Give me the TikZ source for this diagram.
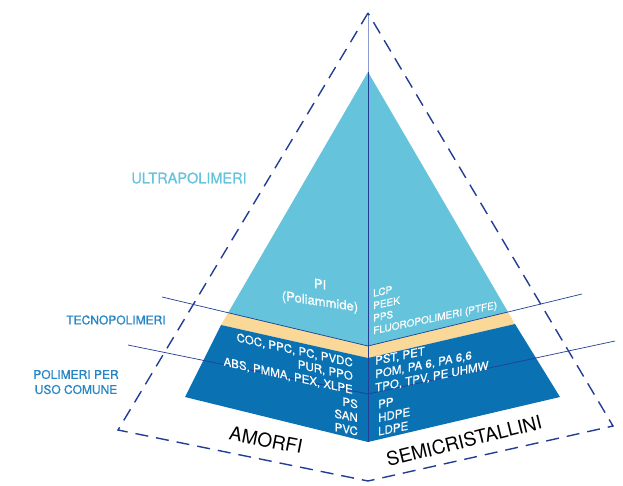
\documentclass[tikz,border=0pt]{standalone}
\usepackage{fontspec}
\setmainfont{TeX Gyre Heros}
\newfontfamily\labelfont[FakeBold=0.8]{TeX Gyre Heros}
\newfontfamily\facefont[FakeBold=0.4]{TeX Gyre Heros}
\usetikzlibrary{positioning}
\definecolor{ultrablue}{HTML}{65C3DB}
\definecolor{tecnoyellow}{HTML}{F9D898}
\definecolor{comuneblue}{HTML}{0A72B3}
\definecolor{linenavy}{HTML}{213E94}
\definecolor{labelblue}{HTML}{2585C5}
\definecolor{apexline}{HTML}{8E9CD0}

\begin{document}
\begin{tikzpicture}[x=1pt, y=-1pt, font=\small]
        \tikzstyle{outline} = [draw=linenavy, line width=1.4pt, dash pattern=on 13pt off 8pt, line join=miter]
        \tikzstyle{divider} = [draw=linenavy, line width=0.7pt]
        \tikzstyle{face} = [text=white, inner sep=0pt, font=\facefont\fontsize{11.5}{13.5}\selectfont]
        \tikzstyle{side} = [inner sep=0pt, text=labelblue, align=center, font=\labelfont\fontsize{12}{15}\selectfont]
        \tikzstyle{base} = [inner sep=0pt, text=black, font=\fontsize{19}{19}\selectfont]
        \useasboundingbox (0,0) rectangle (623,486);
        % outer frame
        \coordinate (top) at (368,13);
        \coordinate (left) at (118,430);
        \coordinate (bottom) at (368,481);
        \coordinate (right) at (613,426);
        % pyramid
        \coordinate (peak) at (368,72);
        \coordinate (ultraL) at (228,313);
        \coordinate (ultraM) at (368,346);
        \coordinate (ultraR) at (508,312);
        \coordinate (tecnoL) at (221,325);
        \coordinate (tecnoM) at (368,358);
        \coordinate (tecnoR) at (515,324);
        \coordinate (baseL) at (185,397);
        \coordinate (baseM) at (368,442);
        \coordinate (baseR) at (560,397);
        \fill[tecnoyellow] (ultraL) -- (ultraM) -- (ultraR) -- (tecnoR) -- (tecnoM) -- (tecnoL) -- cycle;
        \fill[ultrablue] (peak) -- (ultraR) -- (ultraM) -- (ultraL) -- cycle;
        \fill[comuneblue] (tecnoL) -- (tecnoM) -- (tecnoR) -- (baseR) -- (baseM) -- (baseL) -- cycle;
        % dividing lines
        \coordinate (tecnoA) at (162,297);
        \coordinate (tecnoB) at (582,294);
        \coordinate (comuneA) at (128,345);
        \coordinate (comuneM) at (368,394);
        \coordinate (comuneB) at (615,341);
        \draw[divider] (tecnoA) -- (ultraM) -- (tecnoB);
        \draw[divider] (comuneA) -- (comuneM) -- (comuneB);
        \draw[apexline, line width=0.9pt] (top) -- (peak);
        \draw[divider] (peak) -- (baseM);
        \draw[outline] (top) -- (left) -- (bottom) -- (right) -- cycle;
        % texts on the faces
        \node[face, align=center, yslant=-0.15, font=\facefont\fontsize{13}{17}\selectfont] (pi) at (320,294) {PI\\(Poliammide)};
        \node[face, align=left, anchor=west, yslant=0.21, font=\facefont\fontsize{10}{12.5}\selectfont] (lcp) at (373,313) {LCP\\PEEK\\PPS\\FLUOROPOLIMERI (PTFE)};
        \node[face, align=right, anchor=east, yslant=-0.22] (coc) at (353,377) {COC, PPC, PC, PVDC\\PUR, PPO\\ABS, PMMA, PEX, XLPE};
        \node[face, align=left, anchor=west, yslant=0.2] (pst) at (375,375) {PST, PET\\POM, PA 6, PA 6,6\\TPO, TPV, PE UHMW};
        \node[face, align=right, anchor=east, yslant=-0.2] (ps) at (358,418) {PS\\SAN\\PVC};
        \node[face, align=left, anchor=west, yslant=0.2] (pp) at (378,418) {PP\\HDPE\\LDPE};
        % labels
        \node[side, text=ultrablue, font=\labelfont\fontsize{14.5}{15}\selectfont] (ultra) at (189,178) {ULTRAPOLIMERI};
        \node[side] (tecno) at (116,320) {TECNOPOLIMERI};
        \node[side] (comune) at (76,382) {POLIMERI PER\\USO COMUNE};
        \node[base, rotate=-11] (amorfi) at (266,440) {AMORFI};
        \node[base, rotate=14] (semi) at (464,441) {SEMICRISTALLINI};
    \end{tikzpicture}
\end{document}
